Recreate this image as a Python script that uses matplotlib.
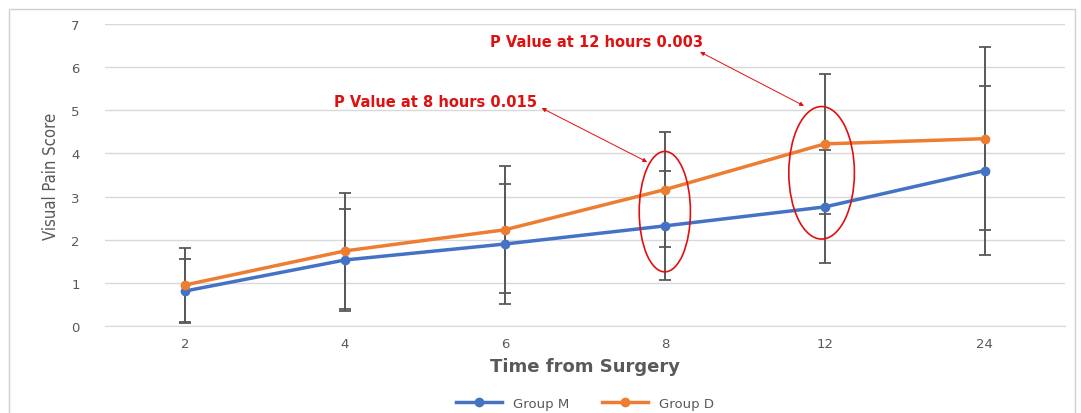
import matplotlib.pyplot as plt
from matplotlib.patches import Ellipse, Rectangle
import numpy as np

# data
hours = ["2", "4", "6", "8", "12", "24"]
group_m = [0.81, 1.53, 1.90, 2.32, 2.76, 3.60]
group_m_err = [0.74, 1.18, 1.40, 1.26, 1.31, 1.95]
group_d = [0.95, 1.74, 2.23, 3.16, 4.22, 4.34]
group_d_err = [0.85, 1.35, 1.47, 1.33, 1.62, 2.12]
notes = ["P Value at 8 hours 0.015", "P Value at 12 hours 0.003"]

blue = '#4472C4'
orange = '#ED7D31'
grey = '#595959'

fig = plt.figure(figsize=(10.81, 4.14), dpi=100)
ax = fig.add_axes([0.097, 0.210, 0.888, 0.730])

# light border around the chart
fig.patches.append(Rectangle((0.008, -0.01), 0.986, 0.985, transform=fig.transFigure,
                             fill=False, edgecolor='#d0d0d0', linewidth=1))

x = np.arange(len(hours))

ax.errorbar(x, group_m, yerr=group_m_err, fmt='none', ecolor=grey, elinewidth=1.4,
            capsize=4, capthick=1.3, zorder=2)
ax.errorbar(x, group_d, yerr=group_d_err, fmt='none', ecolor=grey, elinewidth=1.4,
            capsize=4, capthick=1.3, zorder=2)
ax.plot(x, group_m, color=blue, lw=2.5, marker='o', ms=6, label='Group M', zorder=3)
ax.plot(x, group_d, color=orange, lw=2.5, marker='o', ms=6, label='Group D', zorder=3)

ax.set_xlim(-0.5, 5.5)
ax.set_ylim(0, 7)
ax.set_xticks(x)
ax.set_xticklabels(hours)
ax.set_yticks(range(0, 8))
ax.grid(axis='y', color='#d9d9d9', lw=1)
ax.set_axisbelow(True)
for s in ['top', 'right', 'left']:
    ax.spines[s].set_visible(False)
ax.spines['bottom'].set_color('#d9d9d9')
ax.tick_params(length=0, colors=grey, labelsize=9.5)
ax.tick_params(axis='y', pad=18)
ax.tick_params(axis='x', pad=8)

ax.set_xlabel('Time from Surgery', fontsize=13, fontweight='bold', color=grey, labelpad=5)
ax.set_ylabel('Visual Pain Score', fontsize=12, color=grey, labelpad=8,
              family=['Liberation Sans Narrow', 'DejaVu Sans'], fontstretch='condensed')

# ellipses marking the significant time points
ax.add_patch(Ellipse((3, 2.65), 0.32, 2.79, fill=False, edgecolor='#e01010', lw=1.2, zorder=4))
ax.add_patch(Ellipse((3.98, 3.55), 0.41, 3.07, fill=False, edgecolor='#e01010', lw=1.2, zorder=4))

ax.annotate('', xy=(2.89, 3.8), xytext=(2.23, 5.05),
            arrowprops=dict(arrowstyle='<|-|>', color='#e01010', lw=0.7,
                            mutation_scale=6, shrinkA=0, shrinkB=0))
ax.annotate('', xy=(3.87, 5.1), xytext=(3.22, 6.35),
            arrowprops=dict(arrowstyle='<|-|>', color='#e01010', lw=0.7,
                            mutation_scale=6, shrinkA=0, shrinkB=0))
ax.text(0.93, 5.2, notes[0], color='#e01010', fontsize=10.5, fontweight='bold', va='center')
ax.text(1.91, 6.6, notes[1], color='#e01010', fontsize=10.5, fontweight='bold', va='center')

leg = ax.legend(loc='upper center', bbox_to_anchor=(0.5, -0.195), ncol=2, frameon=False,
                fontsize=9.5, handlelength=3.5, columnspacing=2.5)
for t in leg.get_texts():
    t.set_color(grey)

plt.savefig('out.png', dpi=100)
